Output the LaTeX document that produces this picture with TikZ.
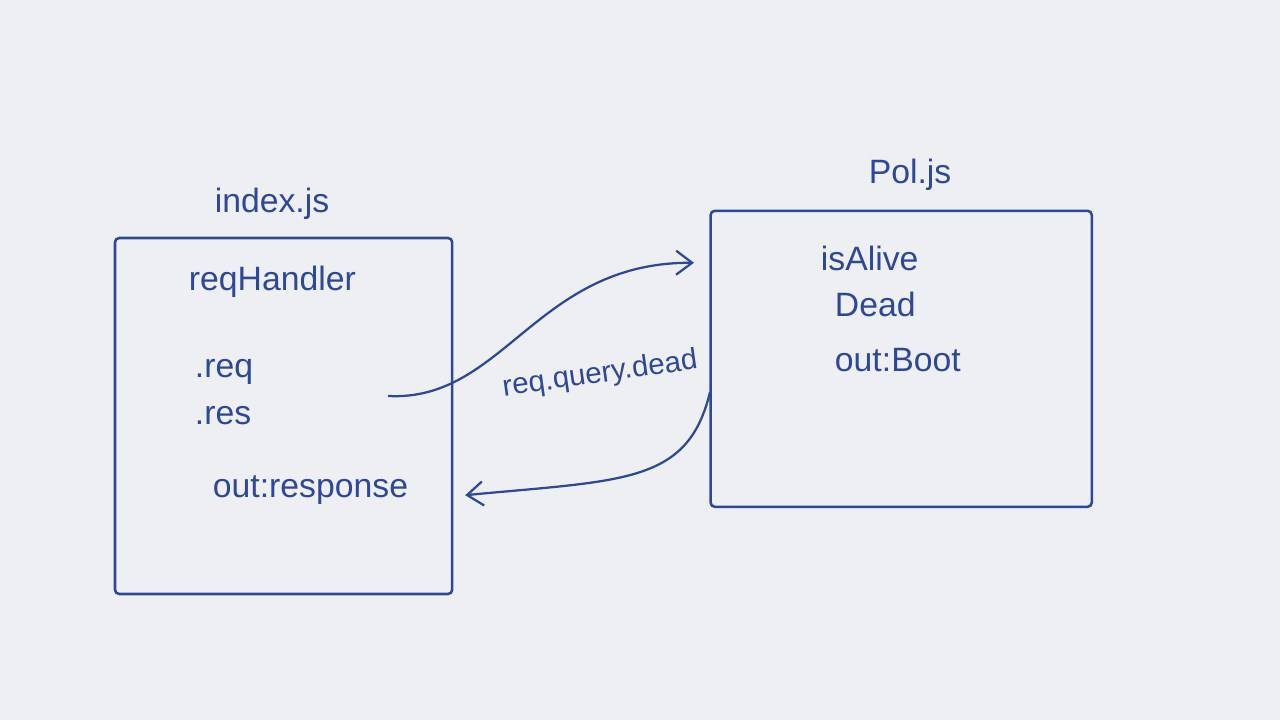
\documentclass[tikz,border=0pt]{standalone}
\usepackage{fontspec}
\setmainfont{Liberation Sans}
\usetikzlibrary{arrows.meta}
\definecolor{paper}{RGB}{238,239,243}
\definecolor{ink}{RGB}{45,72,150}
\begin{document}
\begin{tikzpicture}[x=1cm,y=1cm,
  file/.style={draw=ink, line width=1.8pt, rounded corners=3pt},
  item/.style={text=ink, anchor=west, font=\fontsize{24}{28}\selectfont},
  title/.style={text=ink, font=\fontsize{24}{28}\selectfont},
  flow/.style={draw=ink, line width=1.6pt, -{Straight Barb[length=4mm,width=6mm]}}]
\fill[paper] (0,0) rectangle (32,18);

\node[file, minimum width=8.43cm, minimum height=8.9cm] (index) at (7.09,7.6) {};
\node[file, minimum width=9.53cm, minimum height=7.4cm] (pol) at (22.53,9.03) {};

\node[title] (indextitle) at (6.8,12.9) {index.js};
\node[title] (poltitle) at (22.75,13.63) {Pol.js};

\node[item] (handler) at (4.6,10.95) {reqHandler};
\node[item] (req) at (4.75,8.7) {.req};
\node[item] (res) at (4.75,7.6) {.res};
\node[item] (indexout) at (5.2,5.75) {out:response};

\node[item] (alive) at (20.4,11.55) {isAlive};
\node[item] (dead) at (20.75,10.4) {Dead};
\node[item] (polout) at (20.75,9.0) {out:Boot};

\coordinate (reqout) at (9.7,8.1);
\coordinate (polin) at (17.35,11.43);
\coordinate (polback) at (17.75,8.2);
\coordinate (indexin) at (11.63,5.62);

\draw[flow] (reqout) .. controls (12.6,7.95) and (13.4,11.45) .. (polin);
\draw[flow] (polback) .. controls (17.2,5.9) and (15.6,6.0) .. (indexin);

\node[text=ink, font=\fontsize{21}{25}\selectfont, rotate=8] (query) at (15.0,8.63) {req.query.dead};
\end{tikzpicture}
\end{document}
